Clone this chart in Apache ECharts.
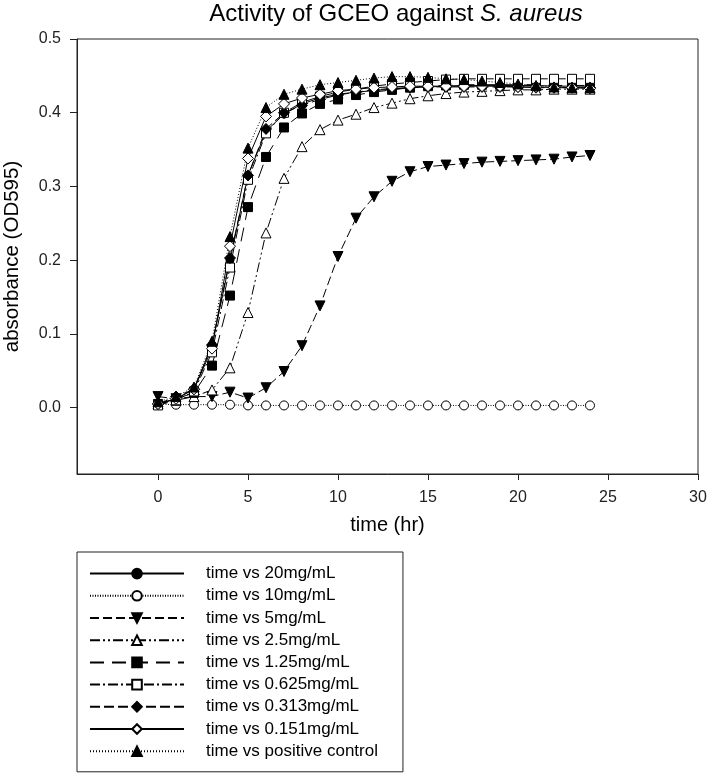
<!DOCTYPE html>
<html>
<head>
<meta charset="utf-8">
<script src="https://cdn.jsdelivr.net/npm/echarts@6/dist/echarts.min.js"></script>
<style>html,body{margin:0;padding:0;background:#fff;}#c{width:708px;height:773px;}</style>
</head>
<body>
<div id="c"></div>
<script>
const times = [0,1,2,3,4,5,6,7,8,9,10,11,12,13,14,15,16,17,18,19,20,21,22,23,24];
const xTicks = [0,5,10,15,20,25,30];
const yTicks = [0,0.1,0.2,0.3,0.4,0.5];
const seriesNames = ['time vs 20mg/mL','time vs 10mg/mL','time vs 5mg/mL','time vs 2.5mg/mL','time vs 1.25mg/mL','time vs 0.625mg/mL','time vs 0.313mg/mL','time vs 0.151mg/mL','time vs positive control'];
const s20 = [0.005,0.012,0.025,0.085,0.200,0.315,0.375,0.398,0.412,0.420,0.425,0.428,0.430,0.432,0.434,0.435,0.436,0.437,0.437,0.437,0.437,0.437,0.436,0.436,0.436];
const s10 = [0.005,0.004,0.004,0.004,0.004,0.003,0.003,0.003,0.003,0.003,0.003,0.003,0.003,0.003,0.003,0.003,0.003,0.003,0.003,0.003,0.003,0.003,0.003,0.003,0.003];
const s5 = [0.015,0.012,0.015,0.015,0.021,0.013,0.027,0.049,0.084,0.138,0.205,0.257,0.286,0.307,0.320,0.327,0.329,0.331,0.333,0.334,0.335,0.336,0.337,0.340,0.342];
const s2_5 = [0.005,0.010,0.015,0.024,0.054,0.129,0.237,0.311,0.354,0.377,0.390,0.398,0.407,0.413,0.419,0.423,0.426,0.428,0.429,0.430,0.431,0.431,0.432,0.432,0.432];
const s1_25 = [0.005,0.012,0.020,0.057,0.152,0.272,0.340,0.380,0.399,0.412,0.418,0.424,0.428,0.431,0.434,0.436,0.437,0.438,0.438,0.438,0.438,0.438,0.437,0.437,0.437];
const s0_625 = [0.003,0.010,0.022,0.075,0.190,0.309,0.372,0.400,0.414,0.422,0.428,0.432,0.436,0.439,0.441,0.443,0.445,0.446,0.446,0.446,0.446,0.446,0.446,0.446,0.446];
const s0_313 = [0.005,0.015,0.025,0.085,0.203,0.315,0.378,0.400,0.410,0.418,0.424,0.428,0.431,0.433,0.434,0.435,0.435,0.435,0.435,0.435,0.435,0.434,0.434,0.434,0.434];
const s0_151 = [0.005,0.012,0.025,0.080,0.219,0.338,0.395,0.412,0.420,0.425,0.430,0.432,0.434,0.435,0.436,0.436,0.436,0.436,0.436,0.436,0.435,0.435,0.434,0.434,0.433];
const sPos = [0.008,0.015,0.028,0.090,0.232,0.352,0.407,0.425,0.432,0.438,0.441,0.444,0.447,0.449,0.449,0.448,0.446,0.445,0.443,0.441,0.439,0.437,0.435,0.434,0.434];

const values = [s20,s10,s5,s2_5,s1_25,s0_625,s0_313,s0_151,sPos];
const styles = [
  {symbol:'circle', size:8, fill:'#000', dash:'solid', rot:0},
  {symbol:'circle', size:9, fill:'#fff', dash:[1,1.5], rot:0},
  {symbol:'triangle', size:10, fill:'#000', dash:[9,4], rot:180},
  {symbol:'triangle', size:10, fill:'#fff', dash:[10,3,2,3,2,3], rot:0},
  {symbol:'rect', size:9, fill:'#000', dash:[14,8], rot:0},
  {symbol:'rect', size:9, fill:'#fff', dash:[10,3,2,3], rot:0},
  {symbol:'diamond', size:11, fill:'#000', dash:[10,4], rot:0},
  {symbol:'diamond', size:11, fill:'#fff', dash:'solid', rot:0},
  {symbol:'triangle', size:10, fill:'#000', dash:[1,2], rot:0}
];
const FONT = 'Liberation Sans, Arial, sans-serif';

const series = seriesNames.map((name, i) => ({
  name: name,
  type: 'line',
  data: times.map((t, j) => [t, values[i][j]]),
  symbol: styles[i].symbol,
  symbolSize: styles[i].size,
  symbolRotate: styles[i].rot,
  showAllSymbol: true,
  animation: false,
  lineStyle: {color:'#000', width:1, type: styles[i].dash},
  itemStyle: {color: styles[i].fill, borderColor:'#000', borderWidth:1, opacity:1}
}));

const chart = echarts.init(document.getElementById('c'), null, {renderer:'canvas'});
chart.setOption({
  animation: false,
  backgroundColor: '#fff',
  title: {
    text: '{n|Activity of GCEO against }{i|S. aureus}',
    left: 391, textAlign: 'center', top: -3,
    textStyle: {
      fontWeight: 'normal',
      rich: {
        n: {fontFamily: FONT, fontSize: 24, color: '#000', fontWeight: 'normal'},
        i: {fontFamily: FONT, fontSize: 24, color: '#000', fontStyle: 'italic', fontWeight: 'normal'}
      }
    }
  },
  grid: {left: 77, top: 39, right: 10, bottom: 299, show: true, borderColor: '#222', borderWidth: 1,
    containLabel: false, outerBoundsMode: 'none'},
  xAxis: {
    type: 'value', min: -4.5, max: 30,
    name: 'time (hr)', nameLocation: 'middle', nameGap: 41,
    nameTextStyle: {fontFamily: FONT, fontSize: 20, color: '#000'},
    axisLine: {show: true, onZero: false, lineStyle: {color: '#222', width: 1}},
    axisTick: {show: true, length: 6, inside: false, customValues: xTicks, lineStyle: {color: '#222'}},
    axisLabel: {customValues: xTicks, margin: 16, fontFamily: FONT, fontSize: 16, color: '#222'},
    splitLine: {show: false}
  },
  yAxis: {
    type: 'value', min: -0.09, max: 0.5,
    name: 'absorbance (OD595)', nameLocation: 'middle', nameGap: 54,
    nameTextStyle: {fontFamily: FONT, fontSize: 20.5, color: '#000'},
    axisLine: {show: true, onZero: false, lineStyle: {color: '#222', width: 1}},
    axisTick: {show: true, length: 7, inside: false, customValues: yTicks, lineStyle: {color: '#222'}},
    axisLabel: {customValues: yTicks, margin: 16, fontFamily: FONT, fontSize: 16, color: '#222',
      formatter: v => Number(v).toFixed(1)},
    splitLine: {show: false}
  },
  legend: {
    orient: 'vertical', left: 77, top: 552,
    itemWidth: 94, itemHeight: 12, itemGap: 3,
    padding: [12, 25, 11, 12],
    borderColor: '#222', borderWidth: 1,
    selectedMode: false,
    textStyle: {fontFamily: FONT, fontSize: 17, lineHeight: 19.2, color: '#000', padding: [0,0,0,17]},
    data: seriesNames
  },
  series: series
});
</script>
</body>
</html>
